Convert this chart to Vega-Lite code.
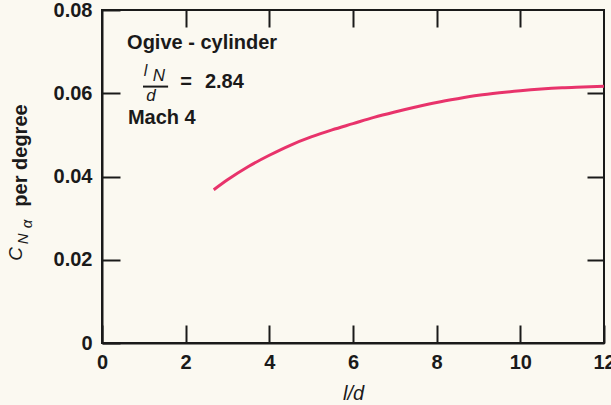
{
  "$schema": "https://vega.github.io/schema/vega-lite/v6.json",
  "width": 502,
  "height": 333,
  "autosize": {"type": "none"},
  "padding": {"left": 102, "top": 10, "right": 7, "bottom": 62},
  "background": "#fbf9f1",
  "config": {
    "view": {"stroke": "#1a1a1a", "strokeWidth": 2},
    "font": "Liberation Sans",
    "axis": {
      "domainColor": "#1a1a1a", "domainWidth": 2,
      "tickColor": "#1a1a1a", "tickWidth": 2,
      "grid": false,
      "labelFont": "Liberation Sans", "labelFontSize": 20, "labelFontWeight": "bold", "labelColor": "#1a1a1a",
      "titleFont": "Liberation Sans", "titleColor": "#1a1a1a"
    }
  },
  "datasets": {
    "curve": [
      {"ld": 2.67, "cn": 0.0368},
      {"ld": 3.0, "cn": 0.0392},
      {"ld": 3.5, "cn": 0.0424},
      {"ld": 4.0, "cn": 0.0451},
      {"ld": 4.5, "cn": 0.0475},
      {"ld": 5.0, "cn": 0.0495},
      {"ld": 5.5, "cn": 0.0512},
      {"ld": 6.0, "cn": 0.0527},
      {"ld": 6.5, "cn": 0.0542},
      {"ld": 7.0, "cn": 0.0555},
      {"ld": 7.5, "cn": 0.0567},
      {"ld": 8.0, "cn": 0.0578},
      {"ld": 8.5, "cn": 0.0587},
      {"ld": 9.0, "cn": 0.0595},
      {"ld": 9.5, "cn": 0.0601},
      {"ld": 10.0, "cn": 0.0606},
      {"ld": 10.5, "cn": 0.0610},
      {"ld": 11.0, "cn": 0.0613},
      {"ld": 11.5, "cn": 0.0615},
      {"ld": 12.0, "cn": 0.0617}
    ],
    "boldText": [
      {"ld": 0.60, "cn": 0.0721, "label": "Ogive - cylinder"},
      {"ld": 1.87, "cn": 0.0628, "label": "="},
      {"ld": 2.46, "cn": 0.0628, "label": "2.84"},
      {"ld": 0.62, "cn": 0.0541, "label": "Mach 4"}
    ],
    "smallItalic": [
      {"ld": 1.04, "cn": 0.0654, "label": "l"}
    ],
    "midItalic": [
      {"ld": 1.17, "cn": 0.0593, "label": "d"}
    ],
    "bigItalic": [
      {"ld": 1.36, "cn": 0.0642, "label": "N"}
    ],
    "fracBar": [
      {"ld": 0.98, "ld2": 1.58, "cn": 0.0616}
    ],
    "rotBig": [
      {"ld": -2.06, "cn": 0.0214, "label": "C"}
    ],
    "rotSmall": [
      {"ld": -1.89, "cn": 0.0250, "label": "N"},
      {"ld": -1.80, "cn": 0.0286, "label": "α"}
    ]
  },
  "layer": [
    {
      "data": {"name": "curve"},
      "mark": {"type": "line", "color": "#e8336b", "strokeWidth": 3, "interpolate": "monotone"},
      "encoding": {
        "x": {
          "field": "ld", "type": "quantitative",
          "scale": {"domain": [0, 12], "nice": false, "zero": false},
          "axis": {
            "orient": "bottom", "values": [0, 2, 4, 6, 8, 10, 12],
            "tickSize": -18, "labelPadding": 27,
            "labelFlush": false,
            "title": "l/d", "titleFontSize": 20, "titleFontStyle": "italic", "titleFontWeight": "normal",
            "titleBaseline": "middle", "titleY": 50
          }
        },
        "y": {
          "field": "cn", "type": "quantitative",
          "scale": {"domain": [0, 0.08], "nice": false, "zero": false},
          "axis": {
            "orient": "left", "values": [0, 0.02, 0.04, 0.06, 0.08],
            "labelExpr": "datum.value == 0 ? '0' : format(datum.value, '.2f')",
            "tickSize": -18, "labelPadding": 28,
            "labelFlush": false,
            "title": "per degree", "titleFontSize": 20, "titleFontWeight": "bold",
            "titleAngle": 270, "titleAlign": "center", "titleBaseline": "middle",
            "titleX": -82, "titleY": 145
          }
        }
      }
    },
    {
      "data": {"name": "fracBar"},
      "mark": {"type": "rule", "color": "#1a1a1a", "strokeWidth": 2},
      "encoding": {
        "x": {
          "field": "ld", "type": "quantitative",
          "axis": {"orient": "top", "values": [2, 4, 6, 8, 10], "labels": false, "domain": false, "tickSize": -17, "title": null}
        },
        "x2": {"field": "ld2"},
        "y": {
          "field": "cn", "type": "quantitative",
          "axis": {"orient": "right", "values": [0.02, 0.04, 0.06], "labels": false, "domain": false, "tickSize": -17, "title": null}
        }
      }
    },
    {
      "data": {"name": "boldText"},
      "mark": {"type": "text", "align": "left", "baseline": "middle", "fontSize": 20, "fontWeight": "bold", "color": "#1a1a1a"},
      "encoding": {
        "x": {"field": "ld", "type": "quantitative", "axis": null},
        "y": {"field": "cn", "type": "quantitative", "axis": null},
        "text": {"field": "label"}
      }
    },
    {
      "data": {"name": "smallItalic"},
      "mark": {"type": "text", "align": "center", "baseline": "middle", "fontSize": 16, "fontStyle": "italic", "color": "#1a1a1a"},
      "encoding": {
        "x": {"field": "ld", "type": "quantitative", "axis": null},
        "y": {"field": "cn", "type": "quantitative", "axis": null},
        "text": {"field": "label"}
      }
    },
    {
      "data": {"name": "midItalic"},
      "mark": {"type": "text", "align": "center", "baseline": "middle", "fontSize": 17, "fontStyle": "italic", "color": "#1a1a1a"},
      "encoding": {
        "x": {"field": "ld", "type": "quantitative", "axis": null},
        "y": {"field": "cn", "type": "quantitative", "axis": null},
        "text": {"field": "label"}
      }
    },
    {
      "data": {"name": "bigItalic"},
      "mark": {"type": "text", "align": "center", "baseline": "middle", "fontSize": 17, "fontStyle": "italic", "color": "#1a1a1a"},
      "encoding": {
        "x": {"field": "ld", "type": "quantitative", "axis": null},
        "y": {"field": "cn", "type": "quantitative", "axis": null},
        "text": {"field": "label"}
      }
    },
    {
      "data": {"name": "rotBig"},
      "mark": {"type": "text", "align": "center", "baseline": "middle", "angle": 270, "fontSize": 19, "fontStyle": "italic", "color": "#1a1a1a"},
      "encoding": {
        "x": {"field": "ld", "type": "quantitative", "axis": null},
        "y": {"field": "cn", "type": "quantitative", "axis": null},
        "text": {"field": "label"}
      }
    },
    {
      "data": {"name": "rotSmall"},
      "mark": {"type": "text", "align": "center", "baseline": "middle", "angle": 270, "fontSize": 15, "fontStyle": "italic", "color": "#1a1a1a"},
      "encoding": {
        "x": {"field": "ld", "type": "quantitative", "axis": null},
        "y": {"field": "cn", "type": "quantitative", "axis": null},
        "text": {"field": "label"}
      }
    }
  ],
  "resolve": {"axis": {"x": "independent", "y": "independent"}}
}
